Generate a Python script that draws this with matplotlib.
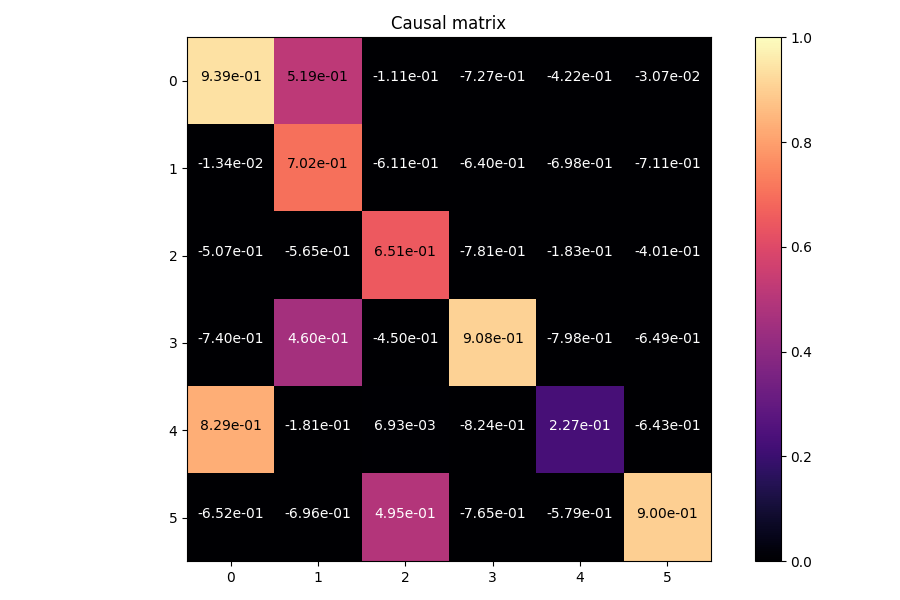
import numpy as np
import matplotlib
matplotlib.use("Agg")
import matplotlib.pyplot as plt

row_labels = [0, 1, 2, 3, 4, 5]
col_labels = [0, 1, 2, 3, 4, 5]

row0 = [9.39e-01, 5.19e-01, -1.11e-01, -7.27e-01, -4.22e-01, -3.07e-02]
row1 = [-1.34e-02, 7.02e-01, -6.11e-01, -6.40e-01, -6.98e-01, -7.11e-01]
row2 = [-5.07e-01, -5.65e-01, 6.51e-01, -7.81e-01, -1.83e-01, -4.01e-01]
row3 = [-7.40e-01, 4.60e-01, -4.50e-01, 9.08e-01, -7.98e-01, -6.49e-01]
row4 = [8.29e-01, -1.81e-01, 6.93e-03, -8.24e-01, 2.27e-01, -6.43e-01]
row5 = [-6.52e-01, -6.96e-01, 4.95e-01, -7.65e-01, -5.79e-01, 9.00e-01]

matrix = np.array([row0, row1, row2, row3, row4, row5])

fig, ax = plt.subplots(figsize=(9, 6), dpi=100)
im = ax.imshow(matrix, cmap="magma", vmin=0, vmax=1)
fig.colorbar(im, ax=ax)

ax.set_xticks(range(len(col_labels)))
ax.set_xticklabels(col_labels)
ax.set_yticks(range(len(row_labels)))
ax.set_yticklabels(row_labels)

# annotate each cell (baseline at cell centre)
for i in range(matrix.shape[0]):
    for j in range(matrix.shape[1]):
        val = matrix[i, j]
        color = "black" if val > 0.5 else "white"
        ax.text(j, i, f"{val:.2e}", ha="center", color=color)

ax.set_title("Causal matrix")

plt.tight_layout()
plt.savefig("out.png", dpi=100)
plt.close()
